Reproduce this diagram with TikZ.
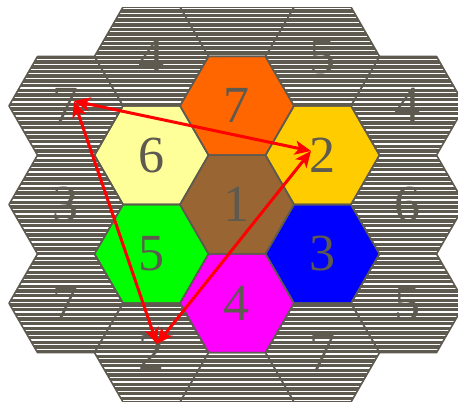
\documentclass[tikz,border=0pt]{standalone}
\usepackage{fontspec}
\setmainfont{Liberation Serif}
\usetikzlibrary{arrows.meta}

\definecolor{boardgray}{RGB}{95,90,80}
\definecolor{hexbrown}{RGB}{153,102,51}
\definecolor{hexorange}{RGB}{255,102,0}
\definecolor{hexgold}{RGB}{255,204,0}
\definecolor{hexblue}{RGB}{0,0,255}
\definecolor{hexpink}{RGB}{255,0,255}
\definecolor{hexgreen}{RGB}{0,255,0}
\definecolor{hexcream}{RGB}{255,255,153}

% one flat-topped hexagon of side 1 around a named point
\newcommand{\hexcell}[1]{([shift={(#1)}]0:1) -- ([shift={(#1)}]60:1) -- ([shift={(#1)}]120:1) -- ([shift={(#1)}]180:1) -- ([shift={(#1)}]240:1) -- ([shift={(#1)}]300:1) -- cycle}

\tikzset{
  hexline/.style={draw=boardgray, line width=0.8pt, line join=round},
  digit/.style={text=boardgray, inner sep=0pt, font=\fontsize{26}{26}\selectfont},
  link/.style={red, line width=1.5pt, {Stealth[length=8pt,width=7pt,inset=2pt]}-{Stealth[length=8pt,width=7pt,inset=2pt]}},
}

\begin{document}
\begin{tikzpicture}
		% --- 1. Frame of the picture ---
		\useasboundingbox (-4.158,-3.465) rectangle (3.877,3.588);
		\clip (-4.158,-3.464) rectangle (3.877,3.464);
		
		% --- 2. Centres of the cells ---
		\coordinate (O) at (0,0);
		% inner ring
		\coordinate (A1) at (0,1.732);
		\coordinate (A2) at (1.5,0.866);
		\coordinate (A3) at (1.5,-0.866);
		\coordinate (A4) at (0,-1.732);
		\coordinate (A5) at (-1.5,-0.866);
		\coordinate (A6) at (-1.5,0.866);
		% outer ring (clockwise from the top)
		\coordinate (B1) at (0,3.464);
		\coordinate (B2) at (1.5,2.598);
		\coordinate (B3) at (3,1.732);
		\coordinate (B4) at (3,0);
		\coordinate (B5) at (3,-1.732);
		\coordinate (B6) at (1.5,-2.598);
		\coordinate (B7) at (0,-3.464);
		\coordinate (B8) at (-1.5,-2.598);
		\coordinate (B9) at (-3,-1.732);
		\coordinate (B10) at (-3,0);
		\coordinate (B11) at (-3,1.732);
		\coordinate (B12) at (-1.5,2.598);
		
		% Ends of the arrows
		\coordinate (pA) at (-2.860,1.816);
		\coordinate (pB) at (1.298,0.939);
		\coordinate (pC) at (-1.404,-2.447);
		
		% --- 3. Striped board ---
		\fill[boardgray] foreach \h in {O,A1,A2,A3,A4,A5,A6,B1,B2,B3,B4,B5,B6,B7,B8,B9,B10,B11,B12} {\hexcell{\h}};
		\begin{scope}
			\clip foreach \h in {O,A1,A2,A3,A4,A5,A6,B1,B2,B3,B4,B5,B6,B7,B8,B9,B10,B11,B12} {\hexcell{\h}};
			\foreach \k in {0,...,86}
				\draw[white, line width=0.65pt] (-4.2,{-3.44+0.0819*\k}) -- (4.2,{-3.44+0.0819*\k});
		\end{scope}
		
		% --- 4. Coloured cells ---
		\foreach \h/\c in {O/hexbrown, A1/hexorange, A2/hexgold, A3/hexblue, A4/hexpink, A5/hexgreen, A6/hexcream}
			\fill[\c] \hexcell{\h};
		
		% Cell borders
		\foreach \h in {O,A1,A2,A3,A4,A5,A6,B1,B2,B3,B4,B5,B6,B7,B8,B9,B10,B11,B12}
			\draw[hexline] \hexcell{\h};
		
		% --- 5. Numbers ---
		\foreach \h/\t in {O/1, A1/7, A2/2, A3/3, A4/4, A5/5, A6/6, B2/5, B3/4, B4/6, B5/5, B6/7, B8/2, B9/7, B10/3, B11/7, B12/4}
			\node[digit] (t\h) at (\h) {\t};
		
		% --- 6. Arrows ---
		\draw[link] (pA) -- (pB);
		\draw[link] (pA) -- (pC);
		\draw[link] (pC) -- (pB);
	\end{tikzpicture}
\end{document}
